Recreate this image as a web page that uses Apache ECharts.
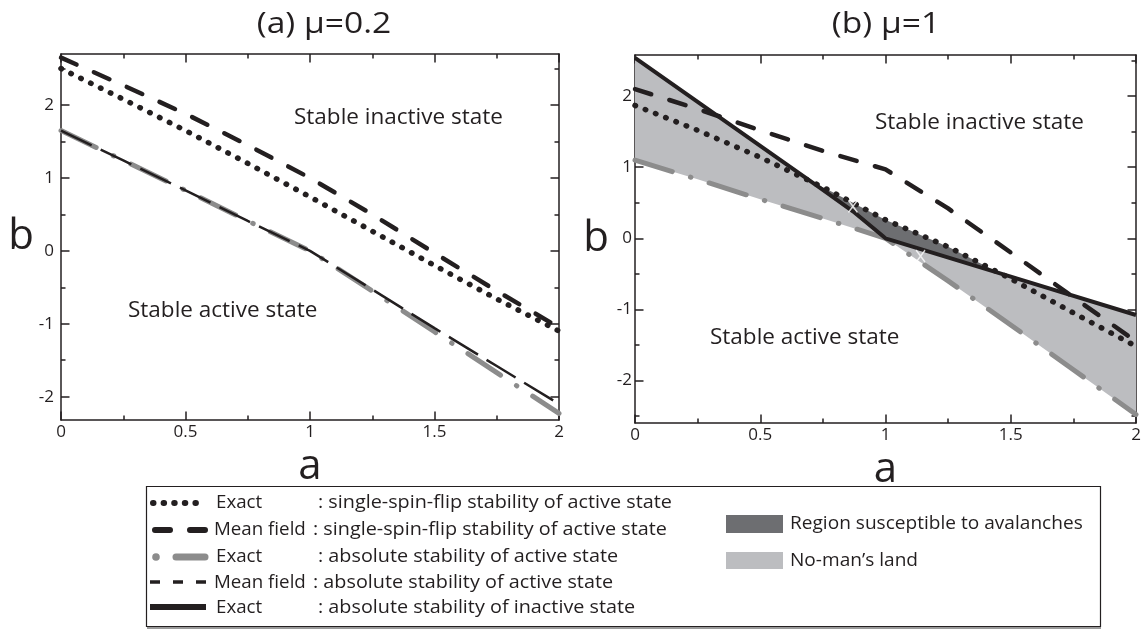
<!DOCTYPE html>
<html>
<head>
<meta charset="utf-8">
<script src="https://cdn.jsdelivr.net/npm/echarts@6/dist/echarts.min.js"></script>
<style>
html, body { margin: 0; padding: 0; background: #fff; }
#main { width: 1146px; height: 631px; }
</style>
</head>
<body>
<div id="main"></div>
<script>
// shared a values
var aGrid = [0, 0.25, 0.5, 0.75, 1, 1.25, 1.5, 1.75, 2];

// (a) mu = 0.2
var exactFlipA = [2.5, 2.08, 1.65, 1.2, 0.74, 0.27, -0.2, -0.66, -1.1];
var meanFlipA = [2.65, 2.27, 1.88, 1.45, 1.0, 0.5, -0.03, -0.55, -1.05];
var exactAbsA = [1.65, 1.24, 0.83, 0.41, 0, -0.55, -1.11, -1.67, -2.23];
var meanAbsA = [1.65, 1.24, 0.83, 0.41, 0, -0.53, -1.06, -1.58, -2.1];

// (b) mu = 1
var exactFlipB = [1.87, 1.52, 1.14, 0.72, 0.26, -0.12, -0.57, -1.05, -1.52];
var meanFlipB = [2.1, 1.82, 1.52, 1.23, 0.97, 0.42, -0.2, -0.83, -1.45];
var exactAbsB = [1.1, 0.83, 0.55, 0.28, 0, -0.6, -1.22, -1.85, -2.48];
var inactiveGrid = [0, 0.25, 0.5, 0.75, 0.87, 1, 1.5, 2];
var exactInactiveB = [2.54, 1.92, 1.3, 0.68, 0.38, 0, -0.54, -1.08];
var crossPts = [[0.87, 0.45], [1.14, -0.25]];

// y ticks
var yMajor = [-2, -1, 0, 1, 2];
var yMinorA = [-1.5, -0.5, 0.5, 1.5, 2.5];
var yMinorB = [-2.5, -1.5, -0.5, 0.5, 1.5, 2.5];

var INK = '#231f20';
var FONT = '"Open Sans"';

function pairs(xs, ys) {
    return xs.map(function (x, i) { return [x, ys[i]]; });
}

function interp(pts, x) {
    for (var i = 0; i < pts.length - 1; i++) {
        if (x <= pts[i + 1][0]) {
            var t = (x - pts[i][0]) / (pts[i + 1][0] - pts[i][0]);
            return pts[i][1] + t * (pts[i + 1][1] - pts[i][1]);
        }
    }
    return pts[pts.length - 1][1];
}

var flipB = pairs(aGrid, exactFlipB);
var inactB = pairs(inactiveGrid, exactInactiveB);
var absB = pairs(aGrid, exactAbsB);

// dark region: above the solid line, below the dotted one
var darkUpper = [], darkLower = [];
for (var k = 0; k <= 200; k++) {
    var a = k / 100;
    var s = interp(inactB, a), d = interp(flipB, a);
    darkUpper.push([a, Math.max(s, d)]);
    darkLower.push([a, s]);
}

function band(upper, lower, xi, yi, fill) {
    return {
        type: 'custom', xAxisIndex: xi, yAxisIndex: yi, data: [0], silent: true, z: 1,
        renderItem: function (params, api) {
            var pts = upper.map(function (p) { return api.coord(p); })
                .concat(lower.slice().reverse().map(function (p) { return api.coord(p); }));
            return { type: 'polygon', shape: { points: pts }, style: { fill: fill } };
        }
    };
}

function line(name, data, xi, yi, ls, z) {
    ls.color = ls.color || INK;
    return {
        name: name, type: 'line', xAxisIndex: xi, yAxisIndex: yi, data: data,
        showSymbol: false, silent: true, z: z, lineStyle: ls, animation: false
    };
}

function xAxes(gi) {
    var base = {
        gridIndex: gi, type: 'value', min: 0, max: 2, interval: 0.5,
        axisLine: { onZero: false, lineStyle: { color: INK, width: 1.5 } },
        axisTick: { inside: true, length: 8.5, lineStyle: { color: INK, width: 1.5 } },
        minorTick: { show: true, splitNumber: 2, length: 4.5, lineStyle: { color: INK, width: 1.5 } },
        splitLine: { show: false }, minorSplitLine: { show: false }
    };
    var bottom = Object.assign({}, base, {
        position: 'bottom',
        axisLabel: { fontSize: 17, color: INK, margin: 4, fontFamily: FONT },
        name: 'a', nameLocation: 'middle', nameGap: 34,
        nameTextStyle: { fontSize: 42, color: INK, fontFamily: FONT, verticalAlign: 'middle' }
    });
    var top = Object.assign({}, base, { position: 'top', axisLabel: { show: false } });
    return [bottom, top];
}

function yAxes(gi, ymin, ymax, minor, margin) {
    var line1 = { onZero: false, lineStyle: { color: INK, width: 1.5 } };
    function ax(pos, vals, len, showLine, labels) {
        var o = {
            gridIndex: gi, type: 'value', min: ymin, max: ymax, position: pos,
            axisLine: showLine ? line1 : { show: false, onZero: false },
            axisTick: { inside: true, length: len, customValues: vals, lineStyle: { color: INK, width: 1.5 } },
            splitLine: { show: false },
            axisLabel: labels ? { customValues: yMajor, fontSize: 17, color: INK, margin: margin, fontFamily: FONT } : { show: false }
        };
        if (labels) {
            o.name = 'b';
            o.nameLocation = 'middle';
            o.nameRotate = 0;
            o.nameGap = 26;
            o.nameTextStyle = { fontSize: 42, color: INK, fontFamily: FONT };
        }
        return o;
    }
    return [
        ax('left', yMajor, 8.5, true, true),
        ax('left', minor, 4.5, false, false),
        ax('right', yMajor, 8.5, true, false),
        ax('right', minor, 4.5, false, false)
    ];
}

var chart = echarts.init(document.getElementById('main'));

function txt(x, y, s, size, align, sx) {
    return {
        type: 'text', x: x, y: y, scaleX: sx || 1,
        style: { text: s, font: size + 'px ' + FONT, fill: INK, align: align || 'left', verticalAlign: 'middle' }
    };
}

var LW = 1.1; // legend text is set a little wide in the original

var option = {
    animation: false,
    backgroundColor: '#fff',
    grid: [
        { left: 61, top: 54, width: 498, height: 366 },
        { left: 635, top: 55, width: 501, height: 368 }
    ],
    xAxis: xAxes(0).concat(xAxes(1)),
    yAxis: yAxes(0, -2.32, 2.7, yMinorA, 7).concat(yAxes(1, -2.6, 2.58, yMinorB, 3)),
    series: [
        // panel (a)
        line('Exact abs active', pairs(aGrid, exactAbsA), 0, 0,
            { color: '#8c8c8c', width: 5, type: [39, 19, 0.5, 19], cap: 'round' }, 3),
        line('Exact flip', pairs(aGrid, exactFlipA), 0, 0,
            { width: 5.5, type: [0.5, 10.5], cap: 'round' }, 4),
        line('Mean flip', pairs(aGrid, meanFlipA), 0, 0,
            { width: 4.5, type: [17, 19], cap: 'round' }, 5),
        line('Mean abs active', pairs(aGrid, meanAbsA), 0, 0,
            { width: 2.5, type: [34, 10] }, 6),

        // panel (b)
        band(inactB, absB, 2, 4, '#bcbdc0'),
        band(darkUpper, darkLower, 2, 4, '#6d6e71'),
        line('Exact abs active', absB, 2, 4,
            { color: '#8c8c8c', width: 5, type: [39, 19, 0.5, 19], cap: 'round' }, 3),
        line('Exact flip', flipB, 2, 4,
            { width: 5.5, type: [0.5, 10.5], cap: 'round' }, 4),
        line('Mean flip', pairs(aGrid, meanFlipB), 2, 4,
            { width: 4.5, type: [17, 19], cap: 'round' }, 5),
        line('Exact abs inactive', inactB, 2, 4, { width: 4 }, 6),
        {
            type: 'scatter', xAxisIndex: 2, yAxisIndex: 4, data: crossPts, z: 8, silent: true,
            symbol: 'path://M0 0L10 13M10 0L0 13', symbolSize: [9, 12],
            itemStyle: { color: 'rgba(0,0,0,0)', borderColor: '#fff', borderWidth: 1.5 }
        }
    ],
    graphic: [
        txt(324, 24, '(a) μ=0.2', 30, 'center', 1.12),
        txt(886, 24, '(b) μ=1', 30, 'center', 1.12),

        txt(294, 118, 'Stable inactive state', 22.5),
        txt(128, 311, 'Stable active state', 22.5),
        txt(875, 123, 'Stable inactive state', 22.5),
        txt(710, 338, 'Stable active state', 22.5),

        // legend box
        { type: 'rect', shape: { x: 146.5, y: 486.5, width: 954, height: 140 }, style: { fill: 'none', stroke: INK, lineWidth: 1.2 } },
        { type: 'line', shape: { x1: 147, y1: 628, x2: 1101, y2: 628 }, style: { stroke: '#9a9a9a', lineWidth: 2 } },

        { type: 'line', shape: { x1: 153, y1: 503, x2: 206, y2: 503 }, style: { stroke: INK, lineWidth: 6, lineDash: [0.5, 10.1], lineCap: 'round' } },
        { type: 'line', shape: { x1: 155, y1: 530, x2: 206, y2: 530 }, style: { stroke: INK, lineWidth: 6, lineDash: [15, 20], lineCap: 'round' } },
        { type: 'circle', shape: { cx: 156, cy: 557, r: 3.8 }, style: { fill: '#8c8c8c' } },
        { type: 'line', shape: { x1: 176, y1: 557, x2: 205, y2: 557 }, style: { stroke: '#8c8c8c', lineWidth: 7, lineCap: 'round' } },
        { type: 'line', shape: { x1: 150, y1: 582, x2: 206, y2: 582 }, style: { stroke: INK, lineWidth: 3.5, lineDash: [10, 13] } },
        { type: 'line', shape: { x1: 150, y1: 607, x2: 206, y2: 607 }, style: { stroke: INK, lineWidth: 6 } },

        txt(216, 503, 'Exact', 18, 'left', 1.04),
        txt(214, 530, 'Mean field', 18, 'left', 1.04),
        txt(216, 557, 'Exact', 18, 'left', 1.04),
        txt(214, 583, 'Mean field', 18, 'left', 1.04),
        txt(216, 608, 'Exact', 18, 'left', 1.04),

        txt(318, 503, ': single-spin-flip stability of active state', 18, 'left', LW),
        txt(313, 530, ': single-spin-flip stability of active state', 18, 'left', LW),
        txt(318, 557, ': absolute stability of active state', 18, 'left', LW),
        txt(313, 583, ': absolute stability of active state', 18, 'left', LW),
        txt(318, 608, ': absolute stability of inactive state', 18, 'left', LW),

        { type: 'rect', shape: { x: 726, y: 515, width: 57, height: 18 }, style: { fill: '#6d6e71' } },
        { type: 'rect', shape: { x: 726, y: 552, width: 57, height: 17 }, style: { fill: '#bcbdc0' } },
        txt(790, 524, 'Region susceptible to avalanches', 18, 'left', 1.06),
        txt(790, 561, 'No-man\u2019s land', 18, 'left', 1.06)
    ]
};
chart.setOption(option);
</script>
</body>
</html>
